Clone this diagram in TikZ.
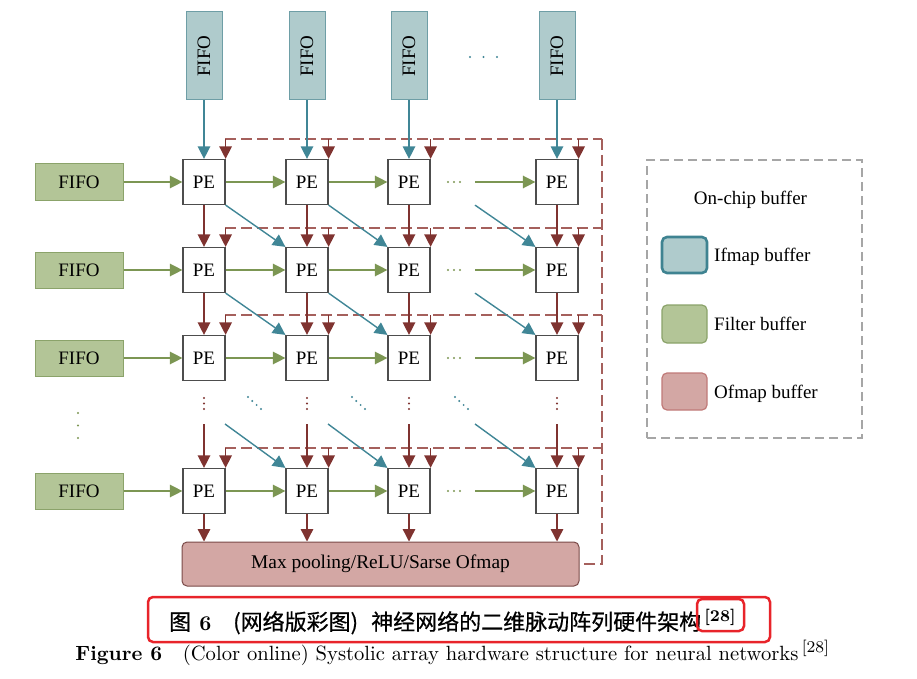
\documentclass[tikz,border=0pt]{standalone}
\usepackage{fontspec}
\newfontfamily\tms{Liberation Serif}
\newfontfamily\cjk{Noto Sans CJK SC}[FakeBold=0.6]
\usetikzlibrary{arrows.meta}
\definecolor{ifill}{RGB}{175,203,204}
\definecolor{iborder}{RGB}{110,158,166}
\definecolor{idark}{RGB}{63,131,145}
\definecolor{bluec}{RGB}{64,134,150}
\definecolor{ffill}{RGB}{179,197,151}
\definecolor{fborder}{RGB}{139,163,106}
\definecolor{greenc}{RGB}{124,150,83}
\definecolor{ofill}{RGB}{211,167,164}
\definecolor{oborder}{RGB}{192,122,120}
\definecolor{mpborder}{RGB}{122,74,72}
\definecolor{brownc}{RGB}{127,51,48}
\definecolor{dashc}{RGB}{165,96,92}
\definecolor{peborder}{RGB}{77,77,77}
\definecolor{leggray}{RGB}{166,166,166}
\definecolor{annred}{RGB}{232,36,42}
\tikzset{
  txt/.style={font={\tms\fontsize{19}{22}\selectfont}, text=black},
  pe/.style={txt, draw=peborder, line width=1.2pt, fill=white, minimum width=42pt, minimum height=45pt, inner sep=0pt},
  tfifo/.style={txt, draw=iborder, fill=ifill, line width=1pt, minimum width=36pt, minimum height=88pt, inner sep=0pt},
  lfifo/.style={txt, draw=fborder, fill=ffill, line width=1pt, minimum width=88pt, minimum height=36pt, inner sep=0pt},
  mpool/.style={txt, font={\tms\fontsize{19.4}{22}\selectfont}, draw=mpborder, fill=ofill, line width=1pt, rounded corners=5pt, minimum width=397pt, minimum height=44pt, inner sep=0pt},
  arrowtip/.style={-{Triangle[width=12.5pt,length=12.5pt]}},
  barr/.style={arrowtip, draw=bluec, line width=1.4pt},
  garr/.style={arrowtip, draw=greenc, line width=1.4pt},
  rarr/.style={arrowtip, draw=brownc, line width=1.4pt},
  odash/.style={draw=dashc, line width=1.2pt, dash pattern=on 11pt off 5pt},
  swatch/.style={minimum width=45pt, inner sep=0pt, rounded corners=5pt, line width=1.2pt},
  legtxt/.style={txt, anchor=base west, inner sep=0pt},
  redbox/.style={draw=annred, line width=2.5pt, rounded corners=5pt},
  cjktxt/.style={anchor=base west, inner sep=0pt, font={\cjk\fontsize{22}{24}\selectfont}}
}
\begin{document}
\begin{tikzpicture}[x=1pt,y=-1pt]
\useasboundingbox (0,0) rectangle (917,679);

% ---------- PE grid ----------
\foreach \c/\x in {1/204,2/307,3/409,4/557}{
  \foreach \r/\y in {1/182,2/270,3/358,5/491}{
    \node[pe] (p\r\c) at (\x,\y) {PE};
  }
  \node[tfifo] (t\c) at (\x,56) {\rotatebox{90}{FIFO}};
}
\foreach \r/\y in {1/182,2/270,3/358,5/491}{
  \node[lfifo] (l\r) at (79,\y) {FIFO};
}
\node[mpool] (mp) at (380.5,564) {Max pooling/ReLU/Sarse Ofmap};

% ---------- dashed output lines ----------
\foreach \r/\yd in {1/139,2/228,3/315,5/448}{
  \coordinate (hs\r) at (225,\yd);
  \coordinate (he\r) at (602,\yd);
  \draw[odash] (hs\r) -- (he\r);
  \foreach \c in {1,2,3,4}{
    \draw[rarr] (p\r\c.north east |- hs\r) -- (p\r\c.north east);
  }
}
\draw[odash] (he1) |- (mp.east);

% ---------- ifmap arrows ----------
\foreach \c in {1,2,3,4}{ \draw[barr] (t\c) -- (p1\c); }
\foreach \r/\n in {1/2,2/3}{
  \draw[barr] (p\r1.south east) -- (p\n2.north west);
  \draw[barr] (p\r2.south east) -- (p\n3.north west);
  \coordinate (dq\r) at (475,0 |- p\r4.south);
  \draw[barr] (dq\r) -- (p\n4.north west);
}
\coordinate (dr1) at (225,424);
\coordinate (dr2) at (328,424);
\coordinate (dr3) at (475,424);
\draw[barr] (dr1) -- (p52.north west);
\draw[barr] (dr2) -- (p53.north west);
\draw[barr] (dr3) -- (p54.north west);

% ---------- filter arrows ----------
\foreach \r in {1,2,3,5}{
  \draw[garr] (l\r) -- (p\r1);
  \draw[garr] (p\r1) -- (p\r2);
  \draw[garr] (p\r2) -- (p\r3);
  \coordinate (gq\r) at (475,0 |- p\r4.west);
  \draw[garr] (gq\r) -- (p\r4);
  \foreach \xd in {448,454,460}{ \fill[greenc] (\xd,0 |- p\r4.west) circle (1.1pt); }
}

% ---------- psum arrows ----------
\foreach \c in {1,2,3,4}{
  \draw[rarr] (p1\c) -- (p2\c);
  \draw[rarr] (p2\c) -- (p3\c);
  \coordinate (vq\c) at (p5\c.north |- 0,424);
  \draw[rarr] (vq\c) -- (p5\c);
  \draw[rarr] (p5\c.south) -- (p5\c.south |- mp.north);
  \foreach \yd in {398,403.5,409}{ \fill[brownc] (p3\c.south |- 0,\yd) circle (1.1pt); }
}

% ---------- dots ----------
\foreach \bx in {248,352,455}{
  \foreach \dx/\dy in {0/0,4.3/4,8.6/8,12.9/12}{
    \fill[bluec] (\bx+\dx,397+\dy) circle (1.1pt);
  }
}
\foreach \yd in {413,425.5,438}{ \fill[greenc] (78,\yd) circle (1.2pt); }
\foreach \xd in {470,483.5,497}{ \fill[bluec] (\xd,57) circle (1.2pt); }

% ---------- legend ----------
\node[draw=leggray, line width=1.4pt, dash pattern=on 9pt off 5pt, minimum width=215pt, minimum height=278pt, inner sep=0pt] (leg) at (754.5,299) {};
\node[txt, anchor=base, inner sep=0pt] (legt) at (750.5,204) {On-chip buffer};
\node[swatch, draw=idark, fill=ifill, line width=2.6pt, minimum height=36pt] (sw1) at (684.5,255) {};
\node[swatch, draw=fborder, fill=ffill, minimum height=38pt] (sw2) at (684.5,324) {};
\node[swatch, draw=oborder, fill=ofill, minimum height=37pt] (sw3) at (684.5,391.5) {};
\node[legtxt] (lt1) at (714,261) {Ifmap buffer};
\node[legtxt] (lt2) at (714,330) {Filter buffer};
\node[legtxt] (lt3) at (714,398) {Ofmap buffer};

% ---------- captions ----------
\node[cjktxt] (c1) at (169,630) {图};
\node[anchor=base west, inner sep=0pt, scale=2.1, font={\fontsize{10}{12}\selectfont\bfseries}] (c2) at (199,630) {6};
\node[cjktxt] (c3) at (233,630) {(网络版彩图)};
\node[cjktxt] (c4) at (371,630) {神经网络的二维脉动阵列硬件架构};
\node[anchor=base west, inner sep=0pt, scale=2.05, font={\fontsize{8}{9}\selectfont\bfseries}] (c5) at (704,621) {[28]};
\node[anchor=base west, inner sep=0pt, scale=2.06, font={\fontsize{10}{12}\selectfont}] (e1) at (75,660) {\textbf{Figure 6}\quad (Color online) Systolic array hardware structure for neural networks\,\raisebox{3.5pt}{\fontsize{8}{9}\selectfont[28]}};
\draw[redbox] (148,597) rectangle (770,642);
\draw[redbox] (697,599) rectangle (744,631);
\end{tikzpicture}
\end{document}
